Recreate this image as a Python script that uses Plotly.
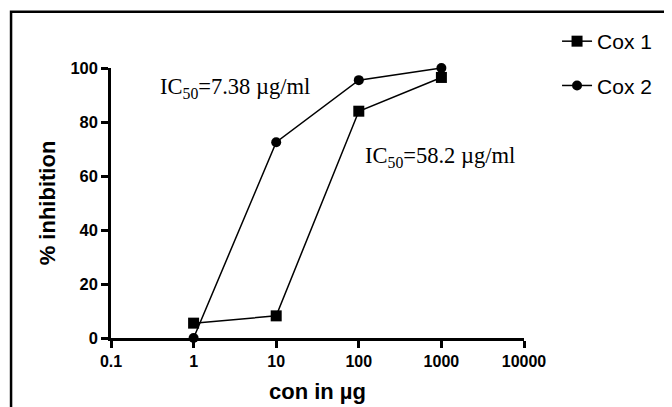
import plotly.graph_objects as go

conc = [1, 10, 100, 1000]
cox1 = [5.5, 8.2, 84, 96.5]
cox2 = [0, 72.5, 95.5, 100]
series_names = ["Cox 1", "Cox 2"]
x_ticks = [0.1, 1, 10, 100, 1000, 10000]
x_tick_labels = ["0.1", "1", "10", "100", "1000", "10000"]
y_ticks = [0, 20, 40, 60, 80, 100]
ann_texts = ["IC<sub>50</sub>=7.38 µg/ml", "IC<sub>50</sub>=58.2 µg/ml"]

sans = "Liberation Sans, Arial, sans-serif"
serif = "Liberation Serif, Times New Roman, serif"

fig = go.Figure()
fig.add_trace(go.Scatter(
    x=conc, y=cox1, name=series_names[0], mode="lines+markers",
    line=dict(color="black", width=1.5),
    marker=dict(symbol="square", size=11, color="black"),
    cliponaxis=False, legendgroup="a"))
fig.add_trace(go.Scatter(
    x=conc, y=cox2, name=series_names[1], mode="lines+markers",
    line=dict(color="black", width=1.5),
    marker=dict(symbol="circle", size=10, color="black"),
    cliponaxis=False, legendgroup="b"))

fig.add_annotation(x=0.5, y=92.6, xref="x", yref="y", text=ann_texts[0],
                   showarrow=False, font=dict(family=serif, size=22.5, color="black"))
fig.add_annotation(x=2.98, y=67, xref="x", yref="y", text=ann_texts[1],
                   showarrow=False, font=dict(family=serif, size=22.5, color="black"))

# outer frame
fig.add_shape(type="rect", xref="paper", yref="paper",
              x0=-0.242, y0=-0.6, x1=1.6, y1=1.208,
              line=dict(color="black", width=2.5), layer="above")

fig.update_layout(
    width=672, height=407,
    margin=dict(l=103, r=156, t=60, b=77),
    paper_bgcolor="white", plot_bgcolor="white",
    font=dict(family=sans, color="black"),
    showlegend=True,
    legend=dict(x=1.08, y=1.174, xanchor="left", yanchor="top",
                font=dict(family=sans, size=21, color="black"),
                tracegroupgap=14, traceorder="grouped",
                bgcolor="rgba(0,0,0,0)"),
    xaxis=dict(type="log", range=[-1, 4], tickvals=x_ticks, ticktext=x_tick_labels,
               showgrid=False, zeroline=False, showline=True, linecolor="black",
               linewidth=2.5, ticks="outside", ticklen=7, tickwidth=2.5,
               tickcolor="black",
               tickfont=dict(family=sans, size=16, color="black", weight="bold"),
               title=dict(text="con in µg", standoff=15,
                          font=dict(family=sans, size=22, color="black", weight="bold"))),
    yaxis=dict(range=[0, 100], tickvals=y_ticks,
               showgrid=False, zeroline=False, showline=True, linecolor="black",
               linewidth=2.5, ticks="outside", ticklen=7, tickwidth=2.5,
               tickcolor="black",
               tickfont=dict(family=sans, size=16.5, color="black", weight="bold"),
               title=dict(text="% inhibition", standoff=9,
                          font=dict(family=sans, size=22, color="black", weight="bold"))),
)

fig.write_html("out.html")
